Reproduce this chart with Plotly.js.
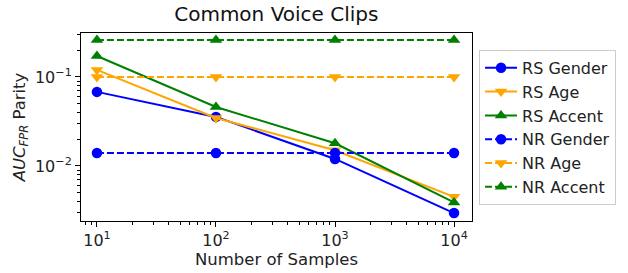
<!DOCTYPE html>
<html><head><meta charset="utf-8">
<script src="https://cdn.plot.ly/plotly-3.0.1.min.js"></script>
<style>html,body{margin:0;padding:0;background:#fff}#chart{width:628px;height:273px}</style>
</head><body><div id="chart"></div>
<script>
var samples = [10, 100, 1000, 10000];
var rsGender = [0.068, 0.0356, 0.012, 0.00296];
var rsAge = [0.12, 0.0346, 0.015, 0.0045];
var rsAccent = [0.172, 0.046, 0.018, 0.0039];
var nrGender = [0.014, 0.014, 0.014, 0.014];
var nrAge = [0.1, 0.1, 0.1, 0.1];
var nrAccent = [0.26, 0.26, 0.26, 0.26];
var xTickVals = [10, 100, 1000, 10000];
var xTickText = ['10<sup>1</sup>', '10<sup>2</sup>', '10<sup>3</sup>', '10<sup>4</sup>'];
var yTickVals = [0.01, 0.1];
var yTickText = ['10<sup>\u22122</sup>', '10<sup>\u22121</sup>'];

var BLUE = '#0000ff', ORANGE = '#ffa500', GREEN = '#008000';
function tr(name, y, color, sym, dash) {
  return {x: samples, y: y, name: name, type: 'scatter', mode: 'lines+markers',
    line: {color: color, width: 2, dash: dash},
    marker: {color: color, symbol: sym, size: sym === 'circle' ? 10.5 : 11}};
}
var DASH = '7px,3px';
var data = [
  tr('RS Gender', rsGender, BLUE, 'circle', 'solid'),
  tr('RS Age', rsAge, ORANGE, 'triangle-down', 'solid'),
  tr('RS Accent', rsAccent, GREEN, 'triangle-up', 'solid'),
  tr('NR Gender', nrGender, BLUE, 'circle', DASH),
  tr('NR Age', nrAge, ORANGE, 'triangle-down', DASH),
  tr('NR Accent', nrAccent, GREEN, 'triangle-up', DASH)
];
function minorVals(lo, hi) {
  var v = [];
  for (var e = lo; e <= hi; e++) for (var d = 2; d <= 9; d++) v.push(d * Math.pow(10, e));
  return v;
}
var FONT = 'DejaVu Sans, sans-serif';
var layout = {
  width: 628, height: 273,
  margin: {l: 81, r: 156, t: 33, b: 52},
  paper_bgcolor: '#fff', plot_bgcolor: '#fff',
  font: {family: FONT, size: 16, color: '#222'},
  title: {text: 'Common Voice Clips', font: {family: FONT, size: 20, color: '#111'}, x: 0.44, xanchor: 'center', y: 0.975, yanchor: 'top'},
  showlegend: true,
  legend: {x: 1.018, y: 0.91, xanchor: 'left', yanchor: 'top', bordercolor: '#cccccc', borderwidth: 1,
    font: {family: FONT, size: 16, color: '#222'}, tracegroupgap: 0, itemwidth: 32},
  xaxis: {type: 'log', range: [Math.log10(10) - 0.134, Math.log10(10000) + 0.151],
    tickvals: xTickVals, ticktext: xTickText, ticks: 'outside', ticklen: 5, tickwidth: 1, tickcolor: '#000',
    showline: true, linecolor: '#000', linewidth: 1, mirror: true, showgrid: false, zeroline: false,
    minor: {tickvals: minorVals(0, 4), ticks: 'outside', ticklen: 3, tickcolor: '#000', showgrid: false},
    title: {text: 'Number of Samples', font: {family: FONT, size: 16.5, color: '#222'}, standoff: 2},
    tickfont: {family: FONT, size: 16, color: '#222'}},
  yaxis: {type: 'log', range: [-2.618, -0.506],
    tickvals: yTickVals, ticktext: yTickText, ticks: 'outside', ticklen: 5, tickwidth: 1, tickcolor: '#000',
    showline: true, linecolor: '#000', linewidth: 1, mirror: true, showgrid: false, zeroline: false,
    minor: {tickvals: minorVals(-3, -1), ticks: 'outside', ticklen: 3, tickcolor: '#000', showgrid: false},
    title: {text: '<i>AUC</i><sub><i>FPR</i></sub> Parity', font: {family: FONT, size: 16.5, color: '#222'}, standoff: 5},
    tickfont: {family: FONT, size: 16, color: '#222'}}
};
Plotly.newPlot('chart', data, layout, {displayModeBar: false, staticPlot: true});
</script></body></html>
